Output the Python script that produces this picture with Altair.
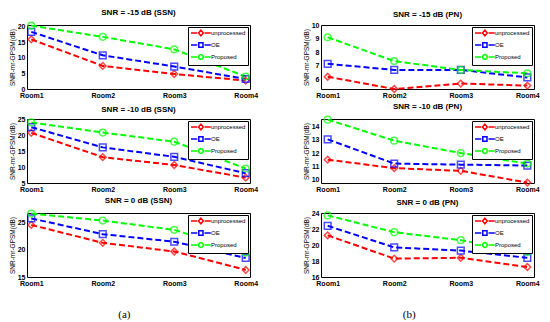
import altair as alt
import pandas as pd

rooms = ["Room1", "Room2", "Room3", "Room4"]
series = ["unprocessed", "OE", "Proposed"]

# (a) SSN panels
ssn_m15_unprocessed = [15.9, 7.4, 4.8, 2.7]
ssn_m15_oe = [18.3, 10.8, 7.2, 3.2]
ssn_m15_proposed = [20.3, 16.7, 12.7, 4.0]

ssn_m10_unprocessed = [20.9, 13.2, 10.7, 6.7]
ssn_m10_oe = [22.7, 16.3, 13.3, 8.1]
ssn_m10_proposed = [24.2, 21.0, 18.1, 9.6]

ssn_0_unprocessed = [24.6, 21.3, 19.7, 16.3]
ssn_0_oe = [25.8, 22.9, 21.5, 18.5]
ssn_0_proposed = [26.7, 25.4, 23.7, 19.5]

# (b) PN panels
pn_m15_unprocessed = [6.2, 5.3, 5.7, 5.55]
pn_m15_oe = [7.15, 6.7, 6.7, 6.15]
pn_m15_proposed = [9.1, 7.35, 6.7, 6.45]

pn_m10_unprocessed = [11.5, 10.85, 10.65, 9.75]
pn_m10_oe = [13.05, 11.2, 11.12, 11.05]
pn_m10_proposed = [14.55, 12.95, 12.0, 11.2]

pn_0_unprocessed = [21.2, 18.3, 18.4, 17.25]
pn_0_oe = [22.4, 19.7, 19.3, 18.4]
pn_0_proposed = [23.7, 21.6, 20.6, 19.15]

panel_titles_a = ["SNR = -15 dB (SSN)", "SNR = -10 dB (SSN)", "SNR = 0 dB (SSN)"]
panel_titles_b = ["SNR = -15 dB (PN)", "SNR = -10 dB (PN)", "SNR = 0 dB (PN)"]

y_domains_a = [[0, 20.5], [5, 25.3], [15, 26.8]]
y_ticks_a = [[0, 5, 10, 15, 20], [5, 10, 15, 20, 25], [15, 20, 25]]
y_domains_b = [[5.3, 10], [9.72, 14.6], [16, 24]]
y_ticks_b = [[6, 7, 8, 9, 10], [10, 11, 12, 13, 14], [16, 18, 20, 22, 24]]

colors = ["#FF0000", "#0000FF", "#00FF00"]
shapes = ["diamond", "square", "circle"]
dashes = "M-1,0L1.1,0M3.5,0L5.6,0"
legend_shapes = [
    dashes + "M2.3,-0.95L3.1,0L2.3,0.95L1.5,0Z",
    dashes + "M1.6,-0.75L3.0,-0.75L3.0,0.75L1.6,0.75Z",
    dashes + "M3.1,0L2.9,0.56L2.3,0.8L1.7,0.56L1.5,0L1.7,-0.56L2.3,-0.8L2.9,-0.56Z",
]

FONT = "Liberation Sans"


def panel(title, values, ydomain, yticks, width, height, xpad):
    rows = []
    for s, vals in zip(series, values):
        for r, v in zip(rooms, vals):
            rows.append({"room": r, "series": s, "value": v})
    df = pd.DataFrame(rows)
    x = alt.X("room:N", sort=rooms,
              scale=alt.Scale(type="point", padding=xpad),
              axis=alt.Axis(title=None, labelAngle=0))
    y = alt.Y("value:Q",
              scale=alt.Scale(domain=ydomain, zero=False, nice=False),
              axis=alt.Axis(title="SNR-mr-GPSM(dB)", values=yticks))
    cscale = alt.Scale(domain=series, range=colors)
    base = alt.Chart(df)
    lines = base.mark_line(strokeDash=[6, 3], strokeWidth=2).encode(
        x=x, y=y, color=alt.Color("series:N", scale=cscale, legend=None))
    pts = base.mark_point(filled=False, strokeWidth=1.5, size=45).encode(
        x=x, y=y,
        color=alt.Color("series:N", scale=cscale, legend=None),
        shape=alt.Shape("series:N", scale=alt.Scale(domain=series, range=shapes), legend=None))
    leg = alt.Legend(title=None, orient="top-right", offset=2, padding=2,
                     fillColor="white", strokeColor="black",
                     labelFont=FONT, labelFontSize=6, labelColor="black",
                     symbolSize=36, symbolStrokeWidth=1.5, labelOffset=13,
                     rowPadding=0, symbolOpacity=1)
    legend_layer = base.transform_filter("false").mark_point(filled=False, strokeWidth=1.5).encode(
        x=x, y=y,
        color=alt.Color("series:N", scale=cscale, legend=leg),
        shape=alt.Shape("series:N", scale=alt.Scale(domain=series, range=legend_shapes), legend=leg))
    return alt.layer(lines, pts, legend_layer).resolve_scale(
        color="independent", shape="independent").properties(
        width=width, height=height,
        title=alt.TitleParams(title, fontSize=8, fontWeight="bold", font=FONT,
                              offset=2, color="black"))


vals_a = [
    [ssn_m15_unprocessed, ssn_m15_oe, ssn_m15_proposed],
    [ssn_m10_unprocessed, ssn_m10_oe, ssn_m10_proposed],
    [ssn_0_unprocessed, ssn_0_oe, ssn_0_proposed],
]
vals_b = [
    [pn_m15_unprocessed, pn_m15_oe, pn_m15_proposed],
    [pn_m10_unprocessed, pn_m10_oe, pn_m10_proposed],
    [pn_0_unprocessed, pn_0_oe, pn_0_proposed],
]

col_a = alt.vconcat(
    *[panel(t, v, d, tk, 223, 64, 0.06) for t, v, d, tk in zip(panel_titles_a, vals_a, y_domains_a, y_ticks_a)],
    spacing=30, bounds="flush",
    title=alt.TitleParams("(a)", orient="bottom", anchor="middle", font="Liberation Serif",
                          fontSize=11, fontWeight="normal", offset=22, dx=-9, color="black"),
).resolve_scale(color="independent", shape="independent")

col_b = alt.vconcat(
    *[panel(t, v, d, tk, 213, 64, 0.1) for t, v, d, tk in zip(panel_titles_b, vals_b, y_domains_b, y_ticks_b)],
    spacing=30, bounds="flush",
    title=alt.TitleParams("(b)", orient="bottom", anchor="middle", font="Liberation Serif",
                          fontSize=11, fontWeight="normal", offset=22, dx=-12, color="black"),
).resolve_scale(color="independent", shape="independent")

chart = alt.hconcat(col_a, col_b, spacing=43).resolve_scale(
    color="independent", shape="independent").properties(
    padding={"left": 0, "top": 0, "right": 0, "bottom": 0}
).configure_view(stroke="black", strokeWidth=1).configure_axis(
    grid=False, domain=False, ticks=False,
    labelFont=FONT, labelFontSize=7, labelFontWeight="bold", labelColor="black", labelPadding=2,
    titleFont=FONT, titleFontSize=6.5, titleFontWeight="normal", titleColor="black", titlePadding=2,
)

chart.save("out.html", embed_options={"renderer": "svg", "actions": False})
